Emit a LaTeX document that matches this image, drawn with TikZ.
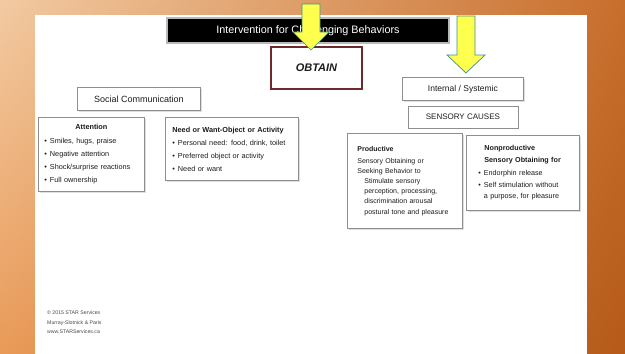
\documentclass[tikz,border=0pt]{standalone}
\usepackage{fontspec}
\setmainfont{Liberation Sans}
\usetikzlibrary{positioning,shadows,shadings}

\definecolor{bgul}{HTML}{F2CAA2}
\definecolor{bgur}{HTML}{C86E2C}
\definecolor{bgll}{HTML}{E99A58}
\definecolor{bglr}{HTML}{B55A18}
\definecolor{boxgray}{HTML}{8E8E8E}
\definecolor{textgray}{HTML}{1C1C1C}
\definecolor{obtainred}{HTML}{6E2A2C}
\definecolor{arrowyellow}{HTML}{FFFF4D}
\definecolor{arrowedge}{HTML}{3E8E98}

\newcommand{\bul}{\textbullet\hspace{3pt}}
\newcommand{\bulgap}{\phantom{\textbullet}\hspace{3pt}}

\begin{document}
\begin{tikzpicture}[
    x=1pt, y=-1pt,
    box/.style={draw=boxgray, line width=0.8pt, fill=white, text=textgray,
      drop shadow={shadow xshift=1.2pt, shadow yshift=-1.2pt, opacity=0.25}},
    headbox/.style={box, align=center, anchor=north west},
    listbox/.style={box, align=left, anchor=north west},
    bigarrow/.style={fill=arrowyellow, draw=arrowedge, line width=0.7pt, line join=miter}
  ]
    \useasboundingbox (0,0) rectangle (625,354);
    % slide background
    \shade[upper left=bgul, upper right=bgur, lower left=bgll, lower right=bglr]
      (0,0) rectangle (625,354);
    \fill[white] (35,15) rectangle (587,354);

    \node[fill=black, draw=gray!55, line width=2pt, text=white, font=\fontsize{10.8}{12}\selectfont,
      minimum width=282, minimum height=25] (title) at (308,30.5) {Intervention for Challenging Behaviors};
    \node[draw=obtainred, line width=2.2pt, fill=white, text=textgray, font=\fontsize{11}{12}\selectfont\bfseries\itshape,
      minimum width=91, minimum height=42] (obtain) at (316.5,68) {OBTAIN};

    % social communication side
    \node[headbox, font=\fontsize{9}{11}\selectfont, minimum width=123, minimum height=23] (social) at (77,87) {Social Communication};
    \node[listbox, font=\fontsize{7.3}{13}\selectfont, inner xsep=6pt, text width=94, minimum width=106, minimum height=74]
      (attention) at (38,117) {\hfill\textbf{Attention}\hfill\null\\[1pt]
      \bul Smiles, hugs, praise\\
      \bul Negative attention\\
      \bul Shock/surprise reactions\\
      \bul Full ownership};
    \node[listbox, font=\fontsize{7.3}{13}\selectfont, inner xsep=7pt, text width=119, minimum width=133, minimum height=63]
      (need) at (165,117) {\textbf{Need or Want-Object or Activity}\\
      \bul Personal need: food, drink, toilet\\
      \bul Preferred object or activity\\
      \bul Need or want};

    % sensory side
    \node[headbox, font=\fontsize{8.5}{10}\selectfont, minimum width=121, minimum height=23] (internal) at (402,77) {Internal / Systemic};
    \node[box, font=\fontsize{8}{10}\selectfont, minimum width=110, minimum height=22, below=5pt of internal] (sensory) {SENSORY CAUSES};
    \node[listbox, font=\fontsize{7}{10.2}\selectfont, inner xsep=10pt, text width=95, minimum width=115, minimum height=95]
      (productive) at (347,133) {\textbf{Productive}\\[1.5pt]
      Sensory Obtaining or\\
      Seeking Behavior to\\
      \hspace*{7pt}Stimulate sensory\\
      \hspace*{7pt}perception, processing,\\
      \hspace*{7pt}discrimination arousal\\
      \hspace*{7pt}postural tone and pleasure};
    \node[listbox, font=\fontsize{7.2}{11.5}\selectfont, inner xsep=12pt, text width=89, minimum width=113, minimum height=75]
      (nonproductive) at (466,135) {\hspace*{6pt}\textbf{Nonproductive}\\
      \hspace*{6pt}\textbf{Sensory Obtaining for}\\[2pt]
      \bul Endorphin release\\
      \bul Self stimulation without\\
      \bulgap a purpose, for pleasure};

    % yellow pointers
    \draw[bigarrow] (302,4) -- (320,4) -- (320,32) -- (329,32) -- (311,50) -- (293,32) -- (302,32) -- cycle;
    \draw[bigarrow] (457,16) -- (475,16) -- (475,55) -- (485,55) -- (466,73) -- (447,55) -- (457,55) -- cycle;

    \node[anchor=north west, align=left, text=textgray!80, font=\fontsize{5.2}{9.5}\selectfont, inner sep=0pt]
      (credit) at (47,311) {\copyright{} 2015 STAR Services\\Murray-Slotnick \& Paris\\www.STARServices.ca};
  \end{tikzpicture}
\end{document}
